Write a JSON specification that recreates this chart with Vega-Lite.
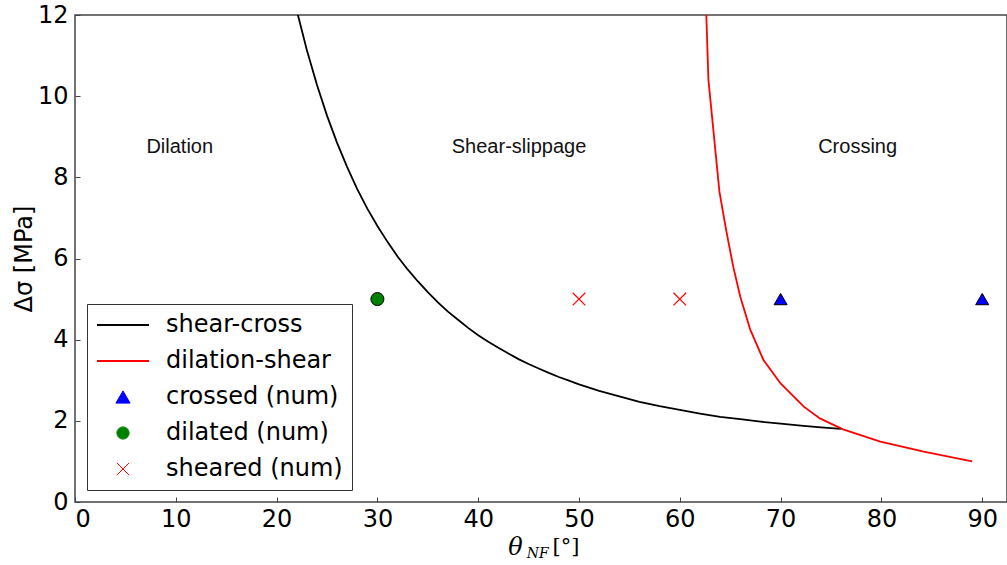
{
  "$schema": "https://vega.github.io/schema/vega-lite/v6.json",
  "width": 932,
  "height": 487,
  "autosize": "none",
  "padding": {"left": 75, "top": 15, "right": 0, "bottom": 63},
  "background": "white",
  "config": {
    "view": {"stroke": "#444444", "strokeWidth": 1.5},
    "font": "DejaVu Sans",
    "legend": {"strokeColor": "#333333", "fillColor": "white", "cornerRadius": 0, "strokeWidth": 1}
  },
  "datasets": {
    "lines": [
      {"series": "shear-cross", "x": 21, "y": 13.24},
      {"series": "shear-cross", "x": 22, "y": 12.11},
      {"series": "shear-cross", "x": 23, "y": 11.14},
      {"series": "shear-cross", "x": 24, "y": 10.28},
      {"series": "shear-cross", "x": 25, "y": 9.52},
      {"series": "shear-cross", "x": 26, "y": 8.85},
      {"series": "shear-cross", "x": 27, "y": 8.25},
      {"series": "shear-cross", "x": 28, "y": 7.71},
      {"series": "shear-cross", "x": 29, "y": 7.23},
      {"series": "shear-cross", "x": 30, "y": 6.8},
      {"series": "shear-cross", "x": 31, "y": 6.41},
      {"series": "shear-cross", "x": 32, "y": 6.05},
      {"series": "shear-cross", "x": 33, "y": 5.73},
      {"series": "shear-cross", "x": 34, "y": 5.44},
      {"series": "shear-cross", "x": 35, "y": 5.17},
      {"series": "shear-cross", "x": 36, "y": 4.92},
      {"series": "shear-cross", "x": 37, "y": 4.69},
      {"series": "shear-cross", "x": 38, "y": 4.49},
      {"series": "shear-cross", "x": 39, "y": 4.29},
      {"series": "shear-cross", "x": 40, "y": 4.11},
      {"series": "shear-cross", "x": 41, "y": 3.95},
      {"series": "shear-cross", "x": 42, "y": 3.8},
      {"series": "shear-cross", "x": 43, "y": 3.66},
      {"series": "shear-cross", "x": 44, "y": 3.52},
      {"series": "shear-cross", "x": 45, "y": 3.4},
      {"series": "shear-cross", "x": 46, "y": 3.29},
      {"series": "shear-cross", "x": 47, "y": 3.18},
      {"series": "shear-cross", "x": 48, "y": 3.08},
      {"series": "shear-cross", "x": 49, "y": 2.99},
      {"series": "shear-cross", "x": 50, "y": 2.9},
      {"series": "shear-cross", "x": 52, "y": 2.74},
      {"series": "shear-cross", "x": 54, "y": 2.6},
      {"series": "shear-cross", "x": 56, "y": 2.47},
      {"series": "shear-cross", "x": 58, "y": 2.36},
      {"series": "shear-cross", "x": 60, "y": 2.27},
      {"series": "shear-cross", "x": 62, "y": 2.18},
      {"series": "shear-cross", "x": 64, "y": 2.1},
      {"series": "shear-cross", "x": 66, "y": 2.04},
      {"series": "shear-cross", "x": 68, "y": 1.98},
      {"series": "shear-cross", "x": 70, "y": 1.93},
      {"series": "shear-cross", "x": 72, "y": 1.88},
      {"series": "shear-cross", "x": 74, "y": 1.84},
      {"series": "shear-cross", "x": 76, "y": 1.8},
      {"series": "dilation-shear", "x": 62.55, "y": 12.6},
      {"series": "dilation-shear", "x": 62.84, "y": 10.4},
      {"series": "dilation-shear", "x": 63.93, "y": 7.65},
      {"series": "dilation-shear", "x": 64.6, "y": 6.7},
      {"series": "dilation-shear", "x": 65.3, "y": 5.8},
      {"series": "dilation-shear", "x": 66.0, "y": 5.06},
      {"series": "dilation-shear", "x": 67.0, "y": 4.24},
      {"series": "dilation-shear", "x": 68.3, "y": 3.5},
      {"series": "dilation-shear", "x": 70.0, "y": 2.92},
      {"series": "dilation-shear", "x": 72.3, "y": 2.35},
      {"series": "dilation-shear", "x": 73.9, "y": 2.06},
      {"series": "dilation-shear", "x": 76.2, "y": 1.79},
      {"series": "dilation-shear", "x": 79.9, "y": 1.49},
      {"series": "dilation-shear", "x": 84.2, "y": 1.24},
      {"series": "dilation-shear", "x": 89.0, "y": 1.0}
    ],
    "filled": [
      {"series": "crossed (num)", "x": 70, "y": 5},
      {"series": "crossed (num)", "x": 90, "y": 5},
      {"series": "dilated (num)", "x": 30, "y": 5}
    ],
    "crosses": [
      {"series": "sheared (num)", "x": 50, "y": 5},
      {"series": "sheared (num)", "x": 60, "y": 5}
    ],
    "regions": [
      {"label": "Dilation", "x": 10.39, "y": 8.6},
      {"label": "Shear-slippage", "x": 44.05, "y": 8.6},
      {"label": "Crossing", "x": 77.64, "y": 8.6}
    ]
  },
  "layer": [
    {
      "data": {"name": "lines"},
      "mark": {"type": "line", "strokeWidth": 1.8, "clip": true},
      "encoding": {
        "x": {"field": "x", "type": "quantitative",
          "scale": {"domain": [0, 92.46], "nice": false, "zero": false},
          "axis": {"values": [0, 10, 20, 30, 40, 50, 60, 70, 80, 90], "grid": false, "domain": false,
            "tickSize": -5, "tickColor": "#444444", "labelFontSize": 24, "labelColor": "black",
            "labelFont": "DejaVu Sans", "labelPadding": 10, "title": null}},
        "y": {"field": "y", "type": "quantitative",
          "scale": {"domain": [0, 12], "nice": false, "zero": false},
          "axis": {"values": [0, 2, 4, 6, 8, 10, 12], "grid": false, "domain": false,
            "tickSize": -5, "tickColor": "#444444", "labelFontSize": 24, "labelColor": "black",
            "labelFont": "DejaVu Sans", "labelPadding": 12,
            "title": "Δσ [MPa]", "titleFontSize": 24, "titleFontWeight": "normal", "titleColor": "black",
            "titleFont": "DejaVu Sans", "titlePadding": 1}},
        "color": {"field": "series", "type": "nominal",
          "scale": {"domain": ["shear-cross", "dilation-shear", "crossed (num)", "dilated (num)", "sheared (num)"],
            "range": ["#000000", "#ff0000", "#0000ff", "#008000", "#ff0000"]},
          "legend": {"title": null, "orient": "bottom-left", "offset": 12, "padding": 9,
            "labelFont": "DejaVu Sans", "labelFontSize": 24, "labelColor": "black", "labelLimit": 400,
            "symbolSize": 150, "symbolOffset": 15, "labelOffset": 31, "rowPadding": 12,
            "encode": {"symbols": {"update": {
              "size": {"signal": "datum.value == 'shear-cross' || datum.value == 'dilation-shear' ? 2704 : datum.value == 'crossed (num)' ? 200 : 150"},
              "fill": {"signal": "datum.value == 'crossed (num)' ? '#0000ff' : datum.value == 'dilated (num)' ? '#008000' : 'transparent'"},
              "stroke": {"signal": "datum.value == 'dilation-shear' || datum.value == 'sheared (num)' ? '#ff0000' : '#000000'"},
              "strokeWidth": {"signal": "datum.value == 'shear-cross' || datum.value == 'dilation-shear' ? 1.8 : 1"},
              "opacity": {"value": 1}
            }}}}}
      }
    },
    {
      "data": {"name": "filled"},
      "mark": {"type": "point", "filled": true, "stroke": "black", "strokeWidth": 1, "size": 170, "opacity": 1},
      "encoding": {
        "x": {"field": "x", "type": "quantitative"},
        "y": {"field": "y", "type": "quantitative"},
        "color": {"field": "series", "type": "nominal"},
        "shape": {"field": "series", "type": "nominal",
          "scale": {"domain": ["shear-cross", "dilation-shear", "crossed (num)", "dilated (num)", "sheared (num)"],
            "range": ["stroke", "stroke", "triangle-up", "circle", "M-1,-1L1,1M-1,1L1,-1"]}}
      }
    },
    {
      "data": {"name": "crosses"},
      "mark": {"type": "point", "filled": false, "strokeWidth": 1.2, "size": 160, "opacity": 1},
      "encoding": {
        "x": {"field": "x", "type": "quantitative"},
        "y": {"field": "y", "type": "quantitative"},
        "color": {"field": "series", "type": "nominal"},
        "shape": {"field": "series", "type": "nominal"}
      }
    },
    {
      "data": {"name": "regions"},
      "mark": {"type": "text", "font": "Liberation Sans", "fontSize": 20, "color": "#111111", "align": "center", "baseline": "alphabetic"},
      "encoding": {
        "x": {"field": "x", "type": "quantitative"},
        "y": {"field": "y", "type": "quantitative"},
        "text": {"field": "label"}
      }
    },
    {
      "data": {"values": [{"t": "θ", "x": 43.7, "y": -1.31}]},
      "mark": {"type": "text", "font": "DejaVu Serif", "fontStyle": "italic", "fontSize": 24, "color": "black", "align": "center", "baseline": "alphabetic", "clip": false},
      "encoding": {
        "x": {"field": "x", "type": "quantitative"},
        "y": {"field": "y", "type": "quantitative"},
        "text": {"field": "t"}
      }
    },
    {
      "data": {"values": [{"t": "NF", "x": 45.9, "y": -1.38}]},
      "mark": {"type": "text", "font": "DejaVu Serif", "fontStyle": "italic", "fontSize": 14, "color": "black", "align": "center", "baseline": "alphabetic", "clip": false},
      "encoding": {
        "x": {"field": "x", "type": "quantitative"},
        "y": {"field": "y", "type": "quantitative"},
        "text": {"field": "t"}
      }
    },
    {
      "data": {"values": [{"t": "[°]", "x": 48.7, "y": -1.26}]},
      "mark": {"type": "text", "font": "DejaVu Serif", "fontSize": 21, "color": "black", "align": "center", "baseline": "alphabetic", "clip": false},
      "encoding": {
        "x": {"field": "x", "type": "quantitative"},
        "y": {"field": "y", "type": "quantitative"},
        "text": {"field": "t"}
      }
    }
  ]
}
